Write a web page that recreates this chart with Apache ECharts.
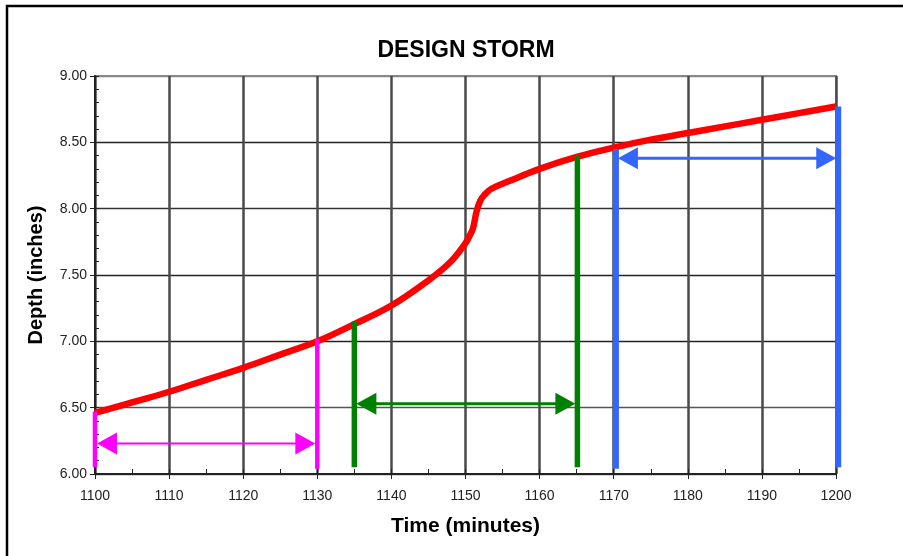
<!DOCTYPE html>
<html>
<head>
<meta charset="utf-8">
<script src="https://cdn.jsdelivr.net/npm/echarts@6/dist/echarts.min.js"></script>
<style>
html,body{margin:0;padding:0;background:#fff;}
#chart{width:903px;height:556px;}
</style>
</head>
<body>
<div id="chart"></div>
<script>
// ---- data ----
const timeMin = [1100, 1105, 1110, 1115, 1120, 1125, 1130, 1135, 1140, 1145, 1148, 1150, 1150.5, 1151, 1151.5, 1152, 1152.5, 1153.5, 1156, 1160, 1165, 1170, 1175, 1180, 1185, 1190, 1195, 1200];
const depthIn = [6.46, 6.54, 6.62, 6.71, 6.80, 6.90, 7.00, 7.13, 7.27, 7.46, 7.60, 7.74, 7.79, 7.85, 7.98, 8.06, 8.10, 8.15, 8.21, 8.30, 8.39, 8.46, 8.52, 8.57, 8.62, 8.67, 8.72, 8.77];

// vertical markers: [time, bottom depth, top depth]
const pinkBars = [[1100, 6.05, 6.47], [1130, 6.04, 7.02]];
const greenBars = [[1135, 6.05, 7.15], [1165.1, 6.05, 8.40]];
const blueBars = [[1170.3, 6.04, 8.45], [1200.3, 6.05, 8.77]];
// double arrows: [from time, to time, depth]
const pinkArrow = [[1100, 1130, 6.23]];
const greenArrow = [[1135, 1165.1, 6.53]];
const blueArrow = [[1170.3, 1200.3, 8.38]];

const xTicks = {min: 1100, max: 1200, interval: 10};
const yTicks = {min: 6, max: 9, interval: 0.5};

const FONT = '"Liberation Sans", Arial, sans-serif';

function barSeries(data, color, width) {
  return {
    type: 'custom',
    data: data,
    encode: {x: 0, y: [1, 2]},
    z: 5,
    silent: true,
    renderItem: function (params, api) {
      const p1 = api.coord([api.value(0), api.value(1)]);
      const p2 = api.coord([api.value(0), api.value(2)]);
      return {
        type: 'line',
        shape: {x1: p1[0], y1: p1[1], x2: p2[0], y2: p2[1]},
        style: {stroke: color, lineWidth: width, lineCap: 'butt'}
      };
    }
  };
}

function arrowSeries(data, color, width) {
  return {
    type: 'custom',
    data: data,
    encode: {x: [0, 1], y: 2},
    z: 6,
    silent: true,
    renderItem: function (params, api) {
      const a = api.coord([api.value(0), api.value(2)]);
      const b = api.coord([api.value(1), api.value(2)]);
      const ax = a[0] + 2, bx = b[0] - 2, y = a[1];
      const L = 20, H = 11;
      return {
        type: 'group',
        children: [
          {type: 'line', shape: {x1: ax + 4, y1: y, x2: bx - 4, y2: y},
           style: {stroke: color, lineWidth: width}},
          {type: 'polygon', shape: {points: [[ax, y], [ax + L, y - H], [ax + L, y + H]]},
           style: {fill: color}},
          {type: 'polygon', shape: {points: [[bx, y], [bx - L, y - H], [bx - L, y + H]]},
           style: {fill: color}}
        ]
      };
    }
  };
}

const chart = echarts.init(document.getElementById('chart'), null, {renderer: 'canvas'});

const option = {
  animation: false,
  backgroundColor: '#fff',
  textStyle: {fontFamily: FONT},
  title: {
    text: 'DESIGN STORM',
    left: 461,
    textAlign: 'center',
    top: 34,
    textStyle: {fontFamily: FONT, fontSize: 23, fontWeight: 'bold', color: '#000'}
  },
  graphic: [{
    type: 'rect',
    shape: {x: 7, y: 6, width: 1000, height: 1000},
    style: {fill: null, stroke: '#000', lineWidth: 2.5},
    silent: true,
    z: 100
  }],
  grid: {
    left: 95, right: 67, top: 76, bottom: 82,
    show: true, borderColor: '#888', borderWidth: 2, backgroundColor: 'transparent'
  },
  xAxis: [{
    type: 'value',
    min: xTicks.min, max: xTicks.max, interval: xTicks.interval,
    name: 'Time (minutes)', nameLocation: 'middle', nameGap: 42,
    nameTextStyle: {fontFamily: FONT, fontSize: 21, fontWeight: 'bold', color: '#000'},
    axisLine: {show: true, onZero: false, lineStyle: {color: '#222', width: 2}},
    axisTick: {show: true, length: 5, lineStyle: {color: '#222', width: 1}},
    axisLabel: {fontFamily: FONT, fontSize: 14, color: '#222', margin: 15,
      formatter: function (v) { return String(v); }},
    splitLine: {show: true, lineStyle: {color: '#4a4a4a', width: 2.5}},
    minorTick: {show: false}
  }, {
    type: 'value', position: 'bottom',
    min: xTicks.min, max: xTicks.max, interval: xTicks.interval,
    axisLine: {show: false, onZero: false},
    axisTick: {show: true, inside: true, length: 5, lineStyle: {color: '#222', width: 1}},
    minorTick: {show: true, splitNumber: 2, length: 5, lineStyle: {color: '#222', width: 1}},
    axisLabel: {show: false},
    splitLine: {show: false}
  }],
  yAxis: [{
    type: 'value',
    min: yTicks.min, max: yTicks.max, interval: yTicks.interval,
    name: 'Depth (inches)', nameLocation: 'middle', nameGap: 49, nameRotate: 90,
    nameTextStyle: {fontFamily: FONT, fontSize: 20, fontWeight: 'bold', color: '#000'},
    axisLine: {show: true, onZero: false, lineStyle: {color: '#222', width: 2}},
    axisTick: {show: true, length: 5, lineStyle: {color: '#222', width: 1}},
    axisLabel: {fontFamily: FONT, fontSize: 14, color: '#222', margin: 8,
      formatter: function (v) { return v.toFixed(2); }},
    splitLine: {show: true, lineStyle: {color: ['#555', '#555', '#222', '#222', '#333', '#222', '#888'], width: 1.3}},
    minorTick: {show: false}
  }, {
    type: 'value', position: 'left',
    min: yTicks.min, max: yTicks.max, interval: yTicks.interval,
    axisLine: {show: false, onZero: false},
    axisTick: {show: true, inside: true, length: 4, lineStyle: {color: '#222', width: 1}},
    minorTick: {show: true, splitNumber: 5, length: 4, lineStyle: {color: '#222', width: 1}},
    axisLabel: {show: false},
    splitLine: {show: false}
  }],
  series: [
    {
      type: 'line',
      data: timeMin.map((t, i) => [t, depthIn[i]]),
      showSymbol: false,
      smooth: 0.4,
      lineStyle: {color: '#ff0000', width: 6.5, cap: 'butt'},
      z: 4,
      silent: true
    },
    barSeries(pinkBars, '#ff00ff', 4.5),
    barSeries(greenBars, '#008000', 5.5),
    barSeries(blueBars, '#3366ff', 6),
    arrowSeries(pinkArrow, '#ff00ff', 2),
    arrowSeries(greenArrow, '#008000', 3),
    arrowSeries(blueArrow, '#3366ff', 3)
  ]
};
chart.setOption(option);
</script>
</body>
</html>
